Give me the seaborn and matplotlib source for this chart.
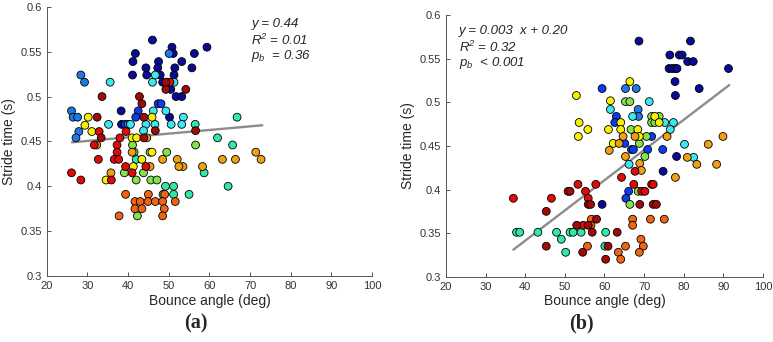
import numpy as np
import pandas as pd
import seaborn as sns
import matplotlib.pyplot as plt

# subject colours (jet-like)
subject_colors = ['#0a0a96', '#0a3cf0', '#1e78e6', '#3ee6f0', '#30e8a8', '#86e24a',
                  '#f8f000', '#f0a012', '#f06414', '#e00a0a', '#a00a0a']

# ---- panel (a): bounce angle vs stride time
a_angle = [46.0, 50.8, 59.4, 41.8, 51.1, 56.3, 41.2, 47.5, 53.2, 44.4, 47.3, 51.5, 55.7, 41.1, 44.6, 51.3, 48.5, 49.6, 50.5, 51.8, 53.2, 50.2, 38.3, 38.4, 47.9,  # navy
           39.3, 42.5, 47.4, 48.1, 41.9,  # blue
           50.1, 28.4, 29.3, 26.1, 26.5, 27.6, 27.9, 27.2, 40.0,  # light blue
           35.6, 46.0, 46.7, 51.3, 35.2, 40.6, 46.2, 44.4, 46.6, 43.8, 49.3, 53.6, 53.2, 50.6,  # cyan
           62.0, 65.7, 64.6, 55.0, 49.2, 51.2, 51.2, 58.7, 56.5, 66.8, 42.0, 48.6,  # aqua
           41.1, 56.6, 39.1, 42.0, 43.8, 45.6, 47.1, 42.3, 49.5, 41.5, 45.4,  # green
           30.2, 29.4, 31.1, 34.6, 41.0, 42.1, 41.3, 43.4, 45.9, 45.9,  # yellow
           71.4, 72.7, 66.4, 63.2, 58.3, 53.5, 52.1, 48.5, 52.5, 45.4, 44.6, 41.0, 35.8, 32.3,  # orange
           39.4, 45.0, 49.0, 41.7, 43.0, 44.9, 46.7, 48.5, 51.6, 41.7, 43.4, 48.9, 37.8, 48.5,  # dark orange
           26.1, 28.4, 31.7, 32.7, 32.9, 37.3, 37.3, 36.6, 37.7, 35.9, 39.4, 41.0, 44.4, 50.3, 39.5, 38.0,  # red
           33.6, 42.8, 43.4, 43.9, 46.7, 49.3, 49.3, 54.2, 56.6, 43.9, 32.4, 33.4]  # dark red
a_stride = [.563, .555, .555, .548, .548, .548, .539, .539, .539, .532, .532, .532, .532, .524, .524, .524, .516, .516, .508, .500, .500, .477, .484, .469, .524,
            .469, .484, .492, .492, .477,
            .548, .524, .516, .484, .477, .477, .461, .454, .469,
            .516, .516, .524, .516, .469, .469, .484, .469, .469, .462, .484, .477, .469, .469,
            .454, .446, .400, .391, .400, .400, .391, .415, .469, .477, .430, .391,
            .446, .446, .415, .407, .415, .407, .407, .367, .438, .438, .438,
            .477, .468, .461, .407, .454, .454, .422, .430, .477, .438,
            .438, .430, .430, .430, .422, .422, .430, .430, .422, .422, .454, .438, .415, .446,
            .391, .391, .391, .383, .383, .383, .383, .383, .383, .375, .375, .375, .367, .367,
            .415, .407, .446, .430, .461, .446, .438, .430, .430, .407, .422, .415, .422, .516, .461, .454,
            .500, .500, .492, .477, .462, .508, .516, .508, .462, .454, .477, .454]
a_subject = [0] * 25 + [1] * 5 + [2] * 9 + [3] * 14 + [4] * 12 + [5] * 11 + [6] * 10 + [7] * 14 + [8] * 14 + [9] * 16 + [10] * 12
a_fit_x = [26.2, 73.0]
a_fit_y = [0.449, 0.468]

# ---- panel (b)
b_angle = [68.7, 81.7, 76.5, 78.9, 79.6, 81.0, 82.4, 76.3, 77.1, 77.8, 78.3, 91.3, 77.8, 83.9, 77.9, 78.2, 59.4, 74.8,  # navy
           59.4, 63.0, 62.6, 65.1, 66.8, 67.3, 74.7, 66.1, 65.4, 71.9, 70.9,  # blue
           65.3, 68.0, 68.5, 68.6,  # light blue
           71.3, 61.5, 67.1, 66.2, 77.4, 75.2, 76.6, 80.2, 82.5,  # cyan
           37.8, 38.6, 43.2, 47.9, 49.1, 50.2, 51.3, 52.1, 54.1, 60.3, 60.1,  # aqua
           65.3, 66.4, 71.9, 71.9, 72.7, 73.8, 66.7, 70.6, 68.8, 70.2, 68.5, 66.4,  # green
           66.4, 52.9, 61.5, 72.7, 73.8, 53.6, 55.8, 53.4, 61.0, 64.1, 64.1, 68.4, 62.2, 68.8,  # yellow
           64.7, 67.7, 63.7, 61.2, 65.3, 68.9, 69.3, 80.9, 83.3, 86.2, 88.3, 89.9, 75.8, 77.9,  # orange
           56.7, 56.6, 55.7, 63.5, 64.1, 65.3, 67.1, 67.1, 71.6, 75.1, 69.2, 69.8, 68.8,  # dark orange
           37.0, 46.6, 50.8, 53.3, 57.8, 55.2, 55.9, 67.7, 64.3, 67.4, 69.4, 70.2, 71.9, 72.3, 54.6,  # red
           45.3, 45.3, 51.3, 55.9, 56.5, 68.9, 72.3, 73.1, 53.0, 55.9, 58.0, 56.9, 63.2, 54.5, 60.9, 60.3]  # dark red
b_stride = [.5705, .5705, .5545, .5545, .5545, .547, .547, .539, .539, .539, .539, .539, .524, .516, .508, .438, .383, .421,
            .516, .484, .477, .453, .446, .446, .446, .398, .390, .461, .446,
            .516, .516, .492, .484,
            .501, .492, .484, .429, .477, .477, .469, .452, .437,
            .351, .351, .351, .351, .343, .328, .351, .351, .351, .351, .335,
            .501, .501, .484, .477, .477, .484, .469, .461, .453, .438, .398, .383,
            .524, .508, .502, .484, .477, .477, .469, .461, .469, .477, .469, .469, .453, .461,
            .461, .461, .453, .445, .438, .430, .422, .437, .429, .452, .429, .461, .461, .414,
            .366, .359, .335, .328, .320, .335, .366, .359, .366, .366, .343, .335, .328,
            .390, .390, .398, .406, .406, .398, .390, .421, .414, .406, .398, .398, .406, .406, .359,
            .375, .335, .398, .383, .383, .383, .383, .383, .359, .359, .366, .351, .351, .328, .335, .320]
b_subject = [0] * 18 + [1] * 11 + [2] * 4 + [3] * 9 + [4] * 11 + [5] * 12 + [6] * 14 + [7] * 14 + [8] * 13 + [9] * 15 + [10] * 16
b_fit_x = [37.0, 91.5]
b_fit_y = [0.331, 0.520]

df_a = pd.DataFrame({'angle': a_angle, 'stride': a_stride, 'subject': a_subject})
df_b = pd.DataFrame({'angle': b_angle, 'stride': b_stride, 'subject': b_subject})

sns.set_style('ticks')
plt.rcParams['font.family'] = ['Liberation Sans', 'DejaVu Sans']
plt.rcParams['mathtext.fontset'] = 'custom'
plt.rcParams['mathtext.it'] = 'Liberation Sans:italic'
plt.rcParams['mathtext.rm'] = 'Liberation Sans:italic'
plt.rcParams['mathtext.default'] = 'it'

fig = plt.figure(figsize=(7.73, 3.42), dpi=100)
ax_a = fig.add_axes([0.0604, 0.193, 0.421, 0.787])
ax_b = fig.add_axes([0.577, 0.191, 0.410, 0.764])

for ax, df, fx, fy in [(ax_a, df_a, a_fit_x, a_fit_y), (ax_b, df_b, b_fit_x, b_fit_y)]:
    sns.lineplot(x=fx, y=fy, ax=ax, color='#8c8c8c', linewidth=1.7, zorder=1)
    sns.scatterplot(data=df, x='angle', y='stride', hue='subject', palette=subject_colors,
                    s=32, edgecolor='black', linewidth=0.6, legend=False, ax=ax, zorder=2)
    ax.set_xlim(20, 100)
    ax.set_ylim(0.3, 0.6)
    ax.set_xticks(range(20, 101, 10))
    ax.set_yticks([0.3, 0.35, 0.4, 0.45, 0.5, 0.55, 0.6])
    ax.set_yticklabels(['0.3', '0.35', '0.4', '0.45', '0.5', '0.55', '0.6'])
    ax.tick_params(direction='in', length=3, labelsize=8, width=0.6, colors='#333333')
    ax.set_xlabel('Bounce angle (deg)', fontsize=10, labelpad=2)
    ax.set_ylabel('Stride time (s)', fontsize=10, labelpad=3)
    for sp in ['left', 'bottom']:
        ax.spines[sp].set_linewidth(0.7)
        ax.spines[sp].set_color('#555555')
    sns.despine(ax=ax)

txt_kw = dict(fontsize=9.5, style='italic', va='top')
ax_a.text(70.3, 0.588, 'y = 0.44', **txt_kw)
ax_a.text(70.3, 0.571, 'R$^2$ = 0.01', **txt_kw)
ax_a.text(70.3, 0.554, 'p$_b$  = 0.36', **txt_kw)
ax_b.text(23.2, 0.589, 'y = 0.003  x + 0.20', **txt_kw)
ax_b.text(23.2, 0.572, 'R$^2$ = 0.32', **txt_kw)
ax_b.text(23.2, 0.555, 'p$_b$  < 0.001', **txt_kw)

fig.text(0.254, 0.04, '(a)', ha='center', fontsize=14.5, fontweight='bold', family=['Liberation Serif', 'DejaVu Serif'])
fig.text(0.752, 0.04, '(b)', ha='center', fontsize=14.5, fontweight='bold', family=['Liberation Serif', 'DejaVu Serif'])

fig.savefig('out.png', dpi=100)
